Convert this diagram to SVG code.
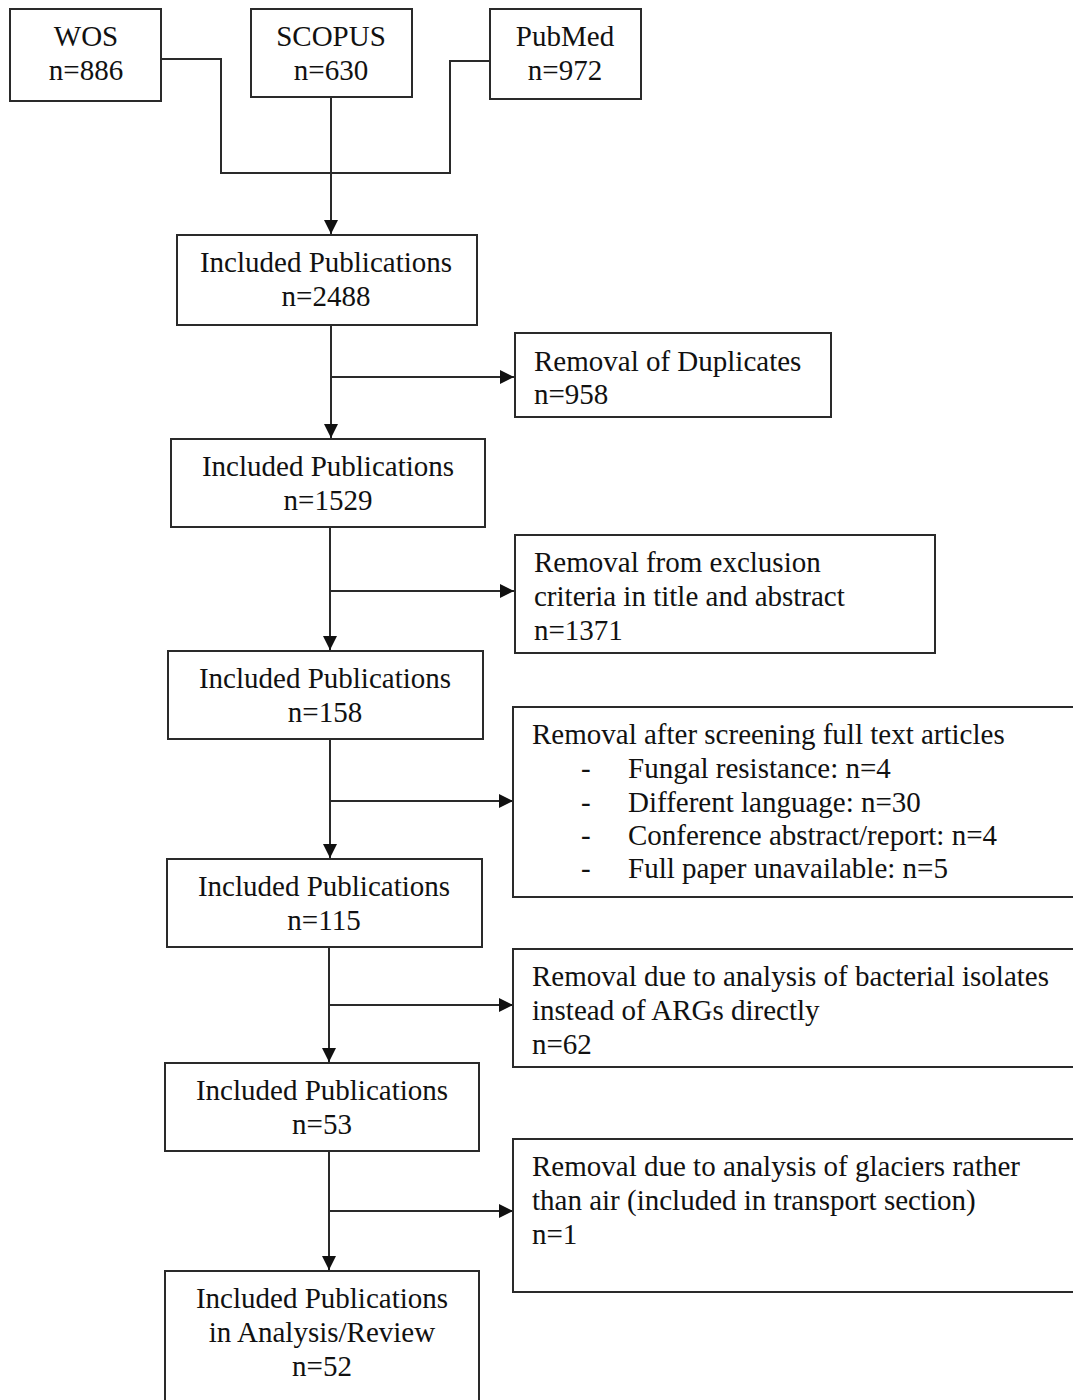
<svg xmlns="http://www.w3.org/2000/svg" width="1073" height="1400" viewBox="0 0 1073 1400">
<defs>
<style>
.box{fill:#fff;stroke:#2a2a2a;stroke-width:2}
.t{font-family:"Liberation Serif","Times New Roman",serif;font-size:29px;fill:#111}
.c{text-anchor:middle}
.ln{fill:none;stroke:#2a2a2a;stroke-width:2}
</style>
<marker id="ah" markerUnits="userSpaceOnUse" markerWidth="15" markerHeight="15" refX="14" refY="7" orient="auto">
<path d="M0,0 L14,7 L0,14 z" fill="#111"/>
</marker>
</defs>
<rect width="1073" height="1400" fill="#fff"/>

<g id="connectors">
<polyline class="ln" points="161,59 221,59 221,173 450,173 450,61 490,61"/>
<line class="ln" x1="331" y1="97" x2="331" y2="234" marker-end="url(#ah)"/>
<line class="ln" x1="331" y1="325" x2="331" y2="438" marker-end="url(#ah)"/>
<line class="ln" x1="331" y1="377" x2="514" y2="377" marker-end="url(#ah)"/>
<line class="ln" x1="330" y1="527" x2="330" y2="650" marker-end="url(#ah)"/>
<line class="ln" x1="330" y1="591" x2="514" y2="591" marker-end="url(#ah)"/>
<line class="ln" x1="330" y1="739" x2="330" y2="858" marker-end="url(#ah)"/>
<line class="ln" x1="330" y1="801" x2="513" y2="801" marker-end="url(#ah)"/>
<line class="ln" x1="329" y1="947" x2="329" y2="1062" marker-end="url(#ah)"/>
<line class="ln" x1="329" y1="1005" x2="513" y2="1005" marker-end="url(#ah)"/>
<line class="ln" x1="329" y1="1151" x2="329" y2="1270" marker-end="url(#ah)"/>
<line class="ln" x1="329" y1="1211" x2="513" y2="1211" marker-end="url(#ah)"/>
</g>

<g id="wos">
<rect class="box" x="10" y="9" width="151" height="92"/>
<text class="t c" x="86" y="46">WOS</text>
<text class="t c" x="86" y="80">n=886</text>
</g>
<g id="scopus">
<rect class="box" x="251" y="9" width="161" height="88"/>
<text class="t c" x="331" y="46">SCOPUS</text>
<text class="t c" x="331" y="80">n=630</text>
</g>
<g id="pubmed">
<rect class="box" x="490" y="9" width="151" height="90"/>
<text class="t c" x="565" y="46">PubMed</text>
<text class="t c" x="565" y="80">n=972</text>
</g>

<g id="inc1">
<rect class="box" x="177" y="235" width="300" height="90"/>
<text class="t c" x="326" y="272">Included Publications</text>
<text class="t c" x="326" y="306">n=2488</text>
</g>
<g id="dup">
<rect class="box" x="515" y="333" width="316" height="84"/>
<text class="t" x="534" y="371">Removal of Duplicates</text>
<text class="t" x="534" y="404">n=958</text>
</g>
<g id="inc2">
<rect class="box" x="171" y="439" width="314" height="88"/>
<text class="t c" x="328" y="476">Included Publications</text>
<text class="t c" x="328" y="510">n=1529</text>
</g>
<g id="excl">
<rect class="box" x="515" y="535" width="420" height="118"/>
<text class="t" x="534" y="572">Removal from exclusion</text>
<text class="t" x="534" y="606">criteria in title and abstract</text>
<text class="t" x="534" y="640">n=1371</text>
</g>
<g id="inc3">
<rect class="box" x="168" y="651" width="315" height="88"/>
<text class="t c" x="325" y="688">Included Publications</text>
<text class="t c" x="325" y="722">n=158</text>
</g>
<g id="fulltext">
<rect class="box" x="513" y="707" width="570" height="190"/>
<text class="t" x="532" y="744">Removal after screening full text articles</text>
<text class="t" x="581" y="778">-</text>
<text class="t" x="628" y="778">Fungal resistance: n=4</text>
<text class="t" x="581" y="812">-</text>
<text class="t" x="628" y="812">Different language: n=30</text>
<text class="t" x="581" y="845">-</text>
<text class="t" x="628" y="845">Conference abstract/report: n=4</text>
<text class="t" x="581" y="878">-</text>
<text class="t" x="628" y="878">Full paper unavailable: n=5</text>
</g>
<g id="inc4">
<rect class="box" x="167" y="859" width="315" height="88"/>
<text class="t c" x="324" y="896">Included Publications</text>
<text class="t c" x="324" y="930">n=115</text>
</g>
<g id="isolates">
<rect class="box" x="513" y="949" width="570" height="118"/>
<text class="t" x="532" y="986">Removal due to analysis of bacterial isolates</text>
<text class="t" x="532" y="1020">instead of ARGs directly</text>
<text class="t" x="532" y="1054">n=62</text>
</g>
<g id="inc5">
<rect class="box" x="165" y="1063" width="314" height="88"/>
<text class="t c" x="322" y="1100">Included Publications</text>
<text class="t c" x="322" y="1134">n=53</text>
</g>
<g id="glaciers">
<rect class="box" x="513" y="1139" width="570" height="153"/>
<text class="t" x="532" y="1176">Removal due to analysis of glaciers rather</text>
<text class="t" x="532" y="1210">than air (included in transport section)</text>
<text class="t" x="532" y="1244">n=1</text>
</g>
<g id="inc6">
<rect class="box" x="165" y="1271" width="314" height="150"/>
<text class="t c" x="322" y="1308">Included Publications</text>
<text class="t c" x="322" y="1342">in Analysis/Review</text>
<text class="t c" x="322" y="1376">n=52</text>
</g>
</svg>
